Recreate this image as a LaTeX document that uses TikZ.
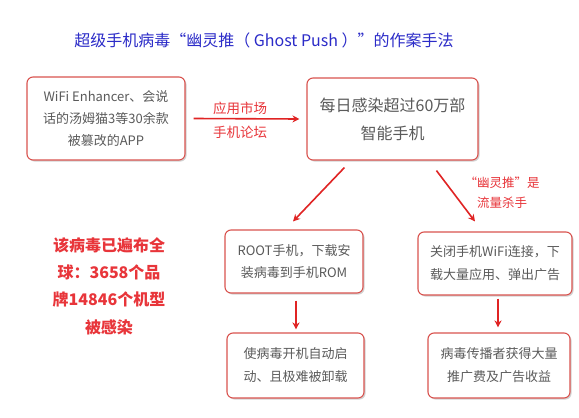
\documentclass[tikz,border=0pt]{standalone}
\usepackage{fontspec}
\setmainfont{Noto Sans CJK SC}
\usetikzlibrary{shadows,arrows.meta}
\definecolor{boxred}{HTML}{D9534F}
\definecolor{arrred}{HTML}{E02424}
\definecolor{txtred}{HTML}{E8353A}
\definecolor{txtgray}{HTML}{5A5A5A}
\definecolor{titleblue}{HTML}{2B2BC8}
\tikzset{
  stepbox/.style={draw=boxred, line width=1.1pt, rounded corners=6pt, fill=white,
    drop shadow={shadow xshift=1.5pt, shadow yshift=-1.5pt, opacity=0.35, fill=gray},
    align=center, inner sep=0pt, text=txtgray},
  arr/.style={draw=arrred, line width=1.6pt, -{Stealth[length=7pt,width=7pt]}},
  redlabel/.style={text=txtred, align=center, inner sep=0pt}
}
\begin{document}
\begin{tikzpicture}[x=1pt,y=-1pt]
\useasboundingbox[fill=white] (0,0) rectangle (579,418);
\node[text=titleblue, inner sep=0pt, font=\fontsize{16}{18}\selectfont] (title) at (264,40) {超级手机病毒“幽灵推（ Ghost Push ）”的作案手法};

\node[stepbox, minimum width=158pt, minimum height=83pt, font=\fontsize{13}{22}\selectfont] (b1) at (106,118.5) {WiFi Enhancer、会说\\话的汤姆猫3等30余款\\被篡改的APP};
\node[stepbox, minimum width=171pt, minimum height=82pt, font=\fontsize{16}{28}\selectfont] (b2) at (392.5,119) {每日感染超过60万部\\智能手机};
\node[stepbox, minimum width=138pt, minimum height=63pt, font=\fontsize{13}{22}\selectfont] (b3) at (294,261.5) {ROOT手机，下载安\\装病毒到手机ROM};
\node[stepbox, minimum width=154pt, minimum height=63pt, font=\fontsize{13}{23}\selectfont] (b4) at (495,263.5) {关闭手机WiFi连接，下\\载大量应用、弹出广告};
\node[stepbox, minimum width=137pt, minimum height=65pt, font=\fontsize{13}{23}\selectfont] (b5) at (295.5,365.5) {使病毒开机自动启\\动、且极难被卸载};
\node[stepbox, minimum width=142pt, minimum height=65pt, font=\fontsize{13}{23}\selectfont] (b6) at (499,365.5) {病毒传播者获得大量\\推广费及广告收益};

\node[redlabel, font=\fontsize{13.5}{24}\selectfont] (l1) at (240,120) {应用市场\\手机论坛};
\node[redlabel, font=\fontsize{12.5}{20}\selectfont] (l2) at (502,193) {“幽灵推”是\\流量杀手};
\node[redlabel, font=\bfseries\fontsize{16}{27.3}\selectfont] (l3) at (109,286) {该病毒已遍布全\\球：3658个品\\牌14846个机型\\被感染};

\draw[arr] ([xshift=8pt]b1.east) -- ([xshift=-7pt]b2.west);
\draw[arr] ([shift={(38,7)}]b2.south west) -- ([shift={(-1,-8)}]b3.north);
\draw[arr] ([shift={(130,10)}]b2.south west) -- ([shift={(-20,-10)}]b4.north);
\draw[arr] ([shift={(2,7)}]b3.south) -- ([shift={(0.5,-3)}]b5.north);
\draw[arr] ([shift={(3,3)}]b4.south) -- ([shift={(-1,-5)}]b6.north);
\end{tikzpicture}
\end{document}
